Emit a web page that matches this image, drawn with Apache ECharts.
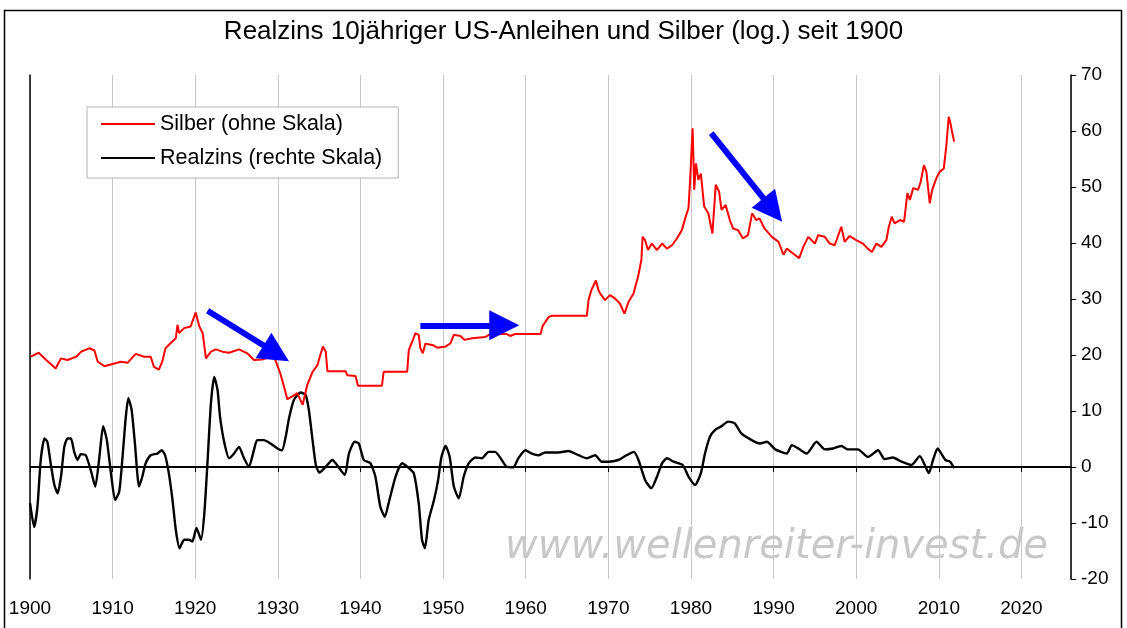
<!DOCTYPE html>
<html>
<head>
<meta charset="utf-8">
<script src="https://cdn.jsdelivr.net/npm/echarts@6/dist/echarts.min.js"></script>
<style>
  html, body { margin: 0; padding: 0; background: #fff; }
  #chart { width: 1127px; height: 628px; }
</style>
</head>
<body>
<div id="chart"></div>
<script>
// Silber (ohne Skala)
var silverYears = [1900.1,1901.05,1901.9,1903.1,1903.75,1904.55,1905.6,1906.2,1907.2,1907.8,1908.2,1909.0,1910.0,1911.0,1911.8,1912.8,1913.8,1914.6,1915.0,1915.6,1916.0,1916.4,1917.0,1917.65,1917.85,1918.05,1918.65,1919.45,1920.05,1920.5,1920.9,1921.3,1921.9,1922.5,1923.3,1924.1,1925.3,1926.3,1927.1,1928.1,1929.1,1929.7,1930.3,1930.7,1931.15,1931.75,1932.35,1933.0,1933.55,1934.2,1934.8,1935.2,1935.45,1935.8,1936.0,1938.2,1938.4,1939.4,1939.7,1942.6,1942.8,1945.65,1945.85,1946.3,1946.65,1947.05,1947.25,1947.55,1947.85,1948.7,1949.3,1950.3,1950.9,1951.3,1952.1,1952.6,1953.5,1955.1,1955.7,1957.7,1958.1,1958.75,1961.8,1962.05,1962.8,1963.2,1967.4,1967.6,1967.95,1968.5,1968.8,1969.0,1969.6,1970.2,1970.8,1971.4,1971.95,1972.45,1973.05,1973.65,1974.0,1974.15,1974.45,1974.8,1975.25,1975.9,1976.5,1977.1,1977.7,1978.3,1978.9,1979.3,1979.7,1979.9,1980.2,1980.4,1980.6,1980.9,1981.2,1981.6,1982.1,1982.6,1983.0,1983.4,1983.7,1984.2,1984.7,1985.1,1985.7,1986.3,1986.9,1987.4,1987.9,1988.3,1988.9,1989.8,1990.6,1991.2,1991.6,1992.2,1993.1,1993.6,1994.2,1995.0,1995.4,1996.2,1996.8,1997.4,1998.2,1998.6,1999.2,2000.0,2000.8,2001.4,2001.9,2002.45,2003.05,2003.65,2003.95,2004.3,2004.65,2005.3,2005.8,2006.2,2006.5,2006.9,2007.5,2007.8,2008.2,2008.5,2008.9,2009.2,2009.7,2010.1,2010.6,2010.9,2011.2,2011.45,2011.6,2011.85];
var silverVals = [19.7,20.4,19.2,17.6,19.4,19.1,19.7,20.6,21.2,20.8,18.8,18.0,18.4,18.8,18.6,20.2,19.7,19.7,17.9,17.4,18.8,21.2,22.1,23.0,25.4,23.9,24.8,25.1,27.6,25.1,23.9,19.4,20.6,21.0,20.6,20.4,21.0,20.3,19.1,19.2,19.7,19.1,16.7,14.6,12.1,12.6,13.2,11.1,14.6,17.0,18.2,20.3,21.5,20.6,17.1,17.1,16.4,16.25,14.5,14.5,17.0,17.0,20.9,22.5,23.9,23.6,21.2,20.3,22.0,21.8,21.3,21.5,22.1,23.6,23.4,22.7,23.0,23.2,23.75,23.75,23.4,23.75,23.75,25.2,26.8,27.0,27.0,29.8,31.6,33.3,31.6,31.0,29.8,30.7,30.1,29.2,27.4,29.5,31.0,34.3,37.0,41.1,40.5,38.75,39.9,38.75,39.9,39.0,39.6,40.8,42.3,44.4,46.2,51.25,60.5,49.5,54.2,51.25,52.4,46.5,45.3,41.7,50.4,49.2,45.9,46.8,44.1,42.6,42.3,40.8,41.4,45.3,44.1,44.4,42.6,41.1,40.2,37.9,39.0,38.3,37.3,39.3,41.1,39.9,41.4,41.1,39.9,39.6,42.9,40.2,41.25,40.5,39.9,39.0,38.4,39.9,39.3,40.5,42.9,44.7,43.5,44.1,43.8,48.9,47.7,49.8,49.5,50.9,53.9,52.7,47.1,49.5,51.55,52.7,53.3,57.2,62.55,61.1,59.9,58.1];

// Realzins (rechte Skala)
var rateYears = [1900.0,1900.5,1900.9,1901.3,1901.75,1902.1,1902.5,1902.95,1903.35,1903.75,1904.15,1904.55,1904.95,1905.35,1905.75,1906.15,1906.75,1907.4,1907.9,1908.4,1908.85,1909.3,1909.8,1910.3,1910.8,1911.2,1911.6,1911.9,1912.3,1912.7,1913.2,1913.6,1914.0,1914.6,1915.4,1915.95,1916.35,1916.8,1917.25,1917.65,1918.1,1918.65,1919.25,1919.65,1920.15,1920.7,1921.1,1921.5,1921.9,1922.3,1922.7,1923.0,1923.5,1924.1,1924.7,1925.3,1925.9,1926.5,1927.1,1927.5,1928.3,1929.1,1929.95,1930.5,1930.95,1931.35,1931.95,1932.75,1933.35,1933.75,1934.2,1934.6,1935.05,1935.8,1936.6,1937.0,1938.1,1938.6,1939.3,1939.8,1940.4,1941.2,1941.8,1942.4,1942.95,1943.4,1944.25,1945.05,1945.85,1946.45,1947.05,1947.45,1947.8,1948.25,1948.9,1949.4,1949.8,1950.3,1950.8,1951.3,1951.9,1952.5,1953.1,1953.9,1954.7,1955.5,1956.3,1957.1,1957.7,1958.5,1959.1,1959.95,1960.75,1961.55,1962.35,1963.95,1965.15,1966.4,1967.4,1968.4,1969.2,1970.0,1971.2,1972.2,1973.1,1973.65,1974.45,1975.2,1975.9,1976.5,1977.1,1977.9,1979.0,1979.7,1980.5,1981.2,1981.7,1982.3,1982.9,1983.7,1984.5,1985.3,1986.1,1987.35,1988.35,1989.2,1990.2,1991.6,1992.2,1993.0,1994.0,1995.2,1996.2,1997.2,1998.2,1999.0,2000.2,2001.45,2002.65,2003.45,2004.45,2005.5,2006.7,2007.7,2008.3,2008.8,2009.3,2009.85,2010.3,2010.8,2011.35,2011.85];
var rateVals = [-6.4,-10.7,-7.1,1.25,5.1,4.5,0.66,-3.2,-4.7,-1.7,3.6,5.1,5.1,2.7,1.25,2.3,2.1,-0.8,-3.5,1.8,7.3,4.8,-1.1,-5.9,-4.4,1.8,9.0,12.3,10.2,4.2,-3.5,-1.7,0.66,2.1,2.4,3.0,2.1,-1.1,-5.9,-11.25,-14.5,-13.0,-13.0,-13.3,-10.9,-13.0,-8.3,1.25,11.4,16.1,13.75,9.0,4.5,1.55,2.4,3.6,1.55,0.05,3.0,4.8,4.8,4.2,3.3,3.0,5.4,8.7,12.0,13.3,12.9,10.2,4.8,0.36,-1.0,0.05,1.25,0.66,-1.4,2.4,4.5,4.2,1.25,0.66,-1.7,-7.1,-8.9,-6.5,-1.7,0.66,-0.2,-1.1,-6.5,-13.0,-14.5,-9.5,-5.9,-2.3,1.8,3.75,1.8,-3.5,-5.6,-1.7,0.66,1.7,1.55,2.7,2.7,1.25,0.05,-0.05,1.55,3.0,2.4,2.1,2.6,2.6,2.85,2.1,1.55,2.1,0.95,0.95,1.25,2.1,2.7,1.25,-2.3,-3.8,-1.7,0.66,1.55,0.95,0.36,-1.7,-3.2,-1.1,2.4,5.4,6.6,7.3,8.1,7.8,6.0,4.8,4.2,4.5,3.15,2.4,3.9,3.3,2.4,4.5,3.15,3.3,3.75,3.15,3.15,1.8,3.0,1.4,1.7,0.95,0.36,1.95,0.36,-1.1,1.25,3.3,2.4,1.25,0.95,-0.2];

// blaue Pfeile: [vonJahr, vonWert, bisJahr, bisWert]
var arrows = [
  [1921.5, 27.9, 1929.8, 20.3],
  [1947.25, 25.3, 1957.4, 25.3],
  [1982.45, 59.6, 1989.9, 45.9]
];

var yTicks = { min: -20, max: 70, step: 10 };

function pairs(xs, ys) {
  var out = [];
  for (var i = 0; i < xs.length; i++) out.push([xs[i], ys[i]]);
  return out;
}

var arrowLines = arrows.map(function (a) {
  return [{ coord: [a[0], a[1]] }, { coord: [a[2], a[3]] }];
});

var chart = echarts.init(document.getElementById('chart'));
chart.setOption({
  animation: false,
  backgroundColor: '#fff',
  title: {
    text: 'Realzins 10jähriger US-Anleihen und Silber (log.) seit 1900',
    left: 'center',
    top: 14,
    textStyle: { fontFamily: 'Liberation Sans', fontSize: 26, fontWeight: 'normal', color: '#000' }
  },
  legend: {
    orient: 'vertical',
    left: 87,
    top: 107,
    padding: [6, 16, 9, 14],
    itemGap: 12,
    itemWidth: 54,
    itemHeight: 2,
    backgroundColor: '#fff',
    borderColor: '#b4b4b4',
    borderWidth: 1,
    textStyle: { fontFamily: 'Liberation Sans', fontSize: 21.5, color: '#000' },
    data: [
      { name: 'Silber (ohne Skala)', icon: 'rect' },
      { name: 'Realzins (rechte Skala)', icon: 'rect' }
    ]
  },
  graphic: [
    {
      type: 'rect', z: 100, silent: true,
      shape: { x: 4.5, y: 10.5, width: 1117, height: 640 },
      style: { fill: null, stroke: '#000', lineWidth: 1.5 }
    },
    {
      type: 'text', z: 0, left: 505, top: 528, silent: true,
      style: { text: 'www.wellenreiter-invest.de', fill: '#c8c8c8', font: 'oblique 40px "DejaVu Sans"' }
    }
  ],
  grid: { left: 30, right: 56, top: 75, bottom: 49, containLabel: false },
  xAxis: [
    {
      type: 'value',
      min: 1900,
      max: 2026,
      interval: 10,
      axisLine: { lineStyle: { color: '#000', width: 1.5 } },
      axisTick: { length: 5, lineStyle: { color: '#000' } },
      axisLabel: {
        showMaxLabel: false, margin: 20, color: '#000',
        fontFamily: 'Liberation Sans', fontSize: 19,
        formatter: function (v) { return String(v); }
      },
      splitLine: { show: true, lineStyle: { color: '#c8c8c8', width: 1 } }
    },
    {
      type: 'value', position: 'top', min: 1900, max: 2026,
      axisLine: { lineStyle: { color: '#b4b4b4' } },
      axisTick: { show: false }, axisLabel: { show: false }, splitLine: { show: false }
    }
  ],
  yAxis: [
    {
      type: 'value',
      position: 'right',
      min: yTicks.min,
      max: yTicks.max,
      interval: yTicks.step,
      axisLine: { show: true, lineStyle: { color: '#000', width: 1.5 } },
      axisTick: { show: true, length: 5, lineStyle: { color: '#000' } },
      axisLabel: { margin: 10, color: '#000', fontFamily: 'Liberation Sans', fontSize: 19 },
      splitLine: { show: false }
    },
    {
      type: 'value', position: 'left', min: yTicks.min, max: yTicks.max,
      axisLine: { show: true, lineStyle: { color: '#000', width: 1.5 } },
      axisTick: { show: false }, axisLabel: { show: false }, splitLine: { show: false }
    }
  ],
  series: [
    {
      name: 'Silber (ohne Skala)',
      type: 'line',
      xAxisIndex: 0,
      yAxisIndex: 0,
      showSymbol: false,
      color: '#ff0000',
      lineStyle: { color: '#ff0000', width: 2 },
      data: pairs(silverYears, silverVals),
      z: 3,
      markLine: {
        silent: true,
        symbol: ['none', 'triangle'],
        symbolSize: 30,
        label: { show: false },
        lineStyle: { color: '#0000ff', width: 6, type: 'solid' },
        itemStyle: { color: '#0000ff' },
        data: arrowLines
      }
    },
    {
      name: 'Realzins (rechte Skala)',
      type: 'line',
      xAxisIndex: 0,
      yAxisIndex: 0,
      showSymbol: false,
      smooth: 0.2,
      color: '#000',
      lineStyle: { color: '#000', width: 2.4 },
      data: pairs(rateYears, rateVals),
      z: 2,
      markLine: {
        silent: true,
        symbol: ['none', 'none'],
        label: { show: false },
        lineStyle: { color: '#000', width: 2, type: 'solid' },
        data: [{ yAxis: 0 }]
      }
    }
  ]
});
</script>
</body>
</html>
